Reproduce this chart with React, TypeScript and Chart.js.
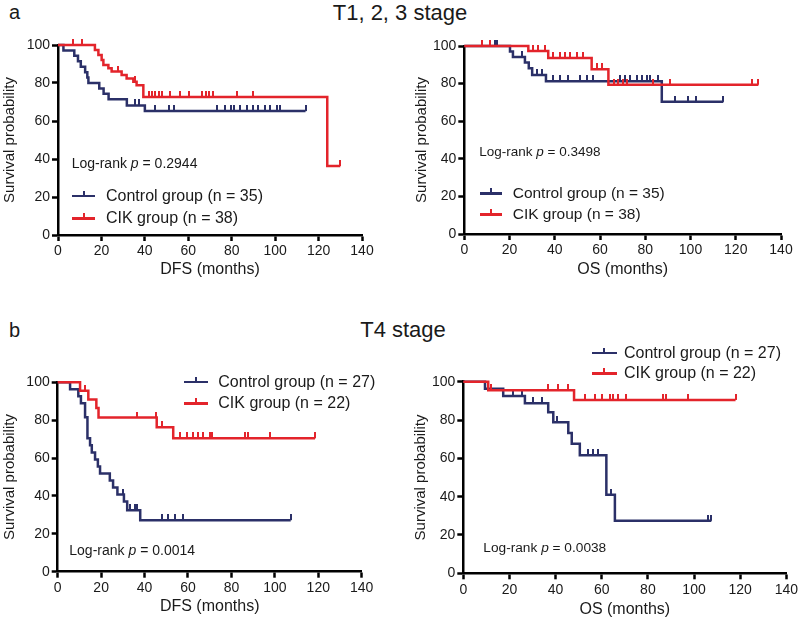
import React, { useEffect, useRef } from 'react';
import { Chart, registerables } from 'chart.js';

Chart.register(...registerables);

type Pt = [number, number];

const NAVY = '#2b3068';
const RED = '#e3242b';
const INK = '#1a1a1a';
const FONT = '"Liberation Sans", Arial, Helvetica, sans-serif';

// ---- axes ----
const xTickValues = [0, 20, 40, 60, 80, 100, 120, 140];
const yTickValues = [0, 20, 40, 60, 80, 100];

// ---- a: T1, 2, 3 stage, DFS ----
const aDfsControl: Pt[] = [[0, 100], [2.5, 97.1], [7.5, 94.3], [9.2, 91.4], [10.5, 88.6], [12.5, 85.7], [13.5, 82.9], [14, 80.0], [19, 77.1], [21, 74.3], [23.3, 71.4], [31.7, 68.2], [40, 65.2], [114, 65.2]];
const aDfsControlCensor = [35.6, 37.1, 44.8, 51, 53.2, 73, 77, 79.5, 81, 84, 87, 90, 92.3, 95.3, 97.7, 100.7, 102.4, 114];
const aDfsCik: Pt[] = [[0, 100], [17, 97.4], [18.6, 94.7], [20.1, 92.1], [20.9, 89.5], [23.2, 87.7], [24.7, 86.0], [29.3, 84.2], [31.6, 82.4], [34.7, 80.6], [36.2, 78.8], [39.3, 72.6], [124, 36.3], [130, 36.3]];
const aDfsCikCensor = [7, 11, 27.8, 35.5, 41.7, 43.3, 44.8, 46.3, 47.9, 51.7, 56.3, 60.1, 66.3, 68, 69.5, 71.5, 82.3, 90, 130];

// ---- a: T1, 2, 3 stage, OS ----
const aOsControl: Pt[] = [[0, 100], [20.2, 97.1], [21.5, 94.2], [26.8, 91.2], [28.5, 88.1], [30, 84.6], [36.1, 81.2], [87.3, 70.3], [114.5, 70.3]];
const aOsControlCensor = [13.5, 14.5, 25.3, 32, 34.5, 39.3, 42.3, 46, 51.2, 54.1, 57, 69, 71, 73.3, 76.4, 78.6, 80.8, 82.3, 85.8, 93, 99, 102.5, 114.5];
const aOsCik: Pt[] = [[0, 100], [28.3, 97.4], [37.1, 93.6], [56.3, 87.6], [63.7, 79.4], [130, 79.4]];
const aOsCikCensor = [7.7, 11.4, 30.5, 32.7, 35.7, 39.3, 42.3, 44.5, 46.7, 49.7, 52.6, 58.5, 60.7, 66, 68, 70.3, 71.8, 83.5, 91, 127, 130];

// ---- b: T4 stage, DFS ----
const bDfsControl: Pt[] = [[0, 100], [5.7, 96.3], [9.5, 92.6], [10.7, 88.9], [12.6, 81.5], [13.7, 70.4], [14.9, 66.7], [15.7, 63.0], [17.2, 59.3], [18.5, 55.6], [19.5, 51.9], [24, 48.1], [25.5, 44.4], [27.5, 40.7], [30.5, 37.0], [32, 32.4], [38, 27.2], [107.3, 27.2]];
const bDfsControlCensor = [30, 33.3, 35.6, 36.7, 48.2, 51, 54, 57.9, 107.3];
const bDfsCik: Pt[] = [[0, 100], [10.3, 95.5], [14.1, 90.9], [17.8, 86.4], [18.8, 81.4], [45.6, 76.3], [53.2, 70.4], [118.5, 70.4]];
const bDfsCikCensor = [12.6, 36.7, 45.2, 47.9, 56.3, 59.4, 62.5, 64.8, 67, 70.2, 70.9, 86.3, 87.8, 97.8, 118.5];

// ---- b: T4 stage, OS ----
const bOsControl: Pt[] = [[0, 100], [9.4, 96.3], [17.3, 92.6], [26.7, 88.7], [36.8, 84.0], [39, 78.8], [45.5, 73.2], [47, 67.6], [50.5, 61.6], [62, 41.0], [65.7, 27.4], [107.5, 27.4]];
const bOsControlCensor = [21.6, 25.3, 30.3, 33.9, 40.4, 54.1, 56.3, 58.4, 64.2, 106, 107.5];
const bOsCik: Pt[] = [[0, 100], [10.8, 95.5], [48, 90.5], [118, 90.5]];
const bOsCikCensor = [12, 36.8, 41, 45.4, 52.7, 57, 59.9, 63.5, 64.9, 67.1, 70.7, 86.6, 88, 97.4, 118];

function survAt(curve: Pt[], t: number): number {
  let s = curve[0][1];
  for (const [x, y] of curve) {
    if (x <= t) s = y;
    else break;
  }
  return s;
}

function makeTick(color: string) {
  const c = document.createElement('canvas');
  c.width = 2;
  c.height = 12;
  const g = c.getContext('2d')!;
  g.fillStyle = color;
  g.fillRect(0, 0, 2, 6);
  return c;
}

interface PanelProps {
  box: [number, number, number, number]; // canvas left, top, width, height (page)
  plot: [number, number, number, number]; // plot left, top, right, bottom (page)
  yTitleX: number;
  xTitleY: number;
  xTitle: string;
  control: Pt[];
  controlCensor: number[];
  cik: Pt[];
  cikCensor: number[];
}

function KMPanel(p: PanelProps) {
  const ref = useRef<HTMLCanvasElement>(null);
  useEffect(() => {
    const [cl, ct, cw, ch] = p.box;
    const [pl, pt, pr, pb] = p.plot;
    const yTitleLH = 15 * 1.2;
    const xTitleLH = 16 * 1.2;
    const padLeft = p.yTitleX - cl - yTitleLH / 2;
    const yAxisWidth = pl - cl - padLeft;
    const padTop = pt - ct;
    const padRight = cl + cw - pr;
    const xAxisHeight = ct + ch - pb;
    const xTitlePadBottom = ct + ch - p.xTitleY - xTitleLH / 2;

    const redTick = makeTick(RED);
    const navyTick = makeTick(NAVY);
    const toXY = (c: Pt[]) => c.map(([x, y]) => ({ x, y }));
    const censorXY = (c: Pt[], ts: number[]) => ts.map((t) => ({ x: t, y: survAt(c, t) }));

    const tickFont = { family: FONT, size: 14 };
    const chart = new Chart(ref.current!, {
      type: 'line',
      data: {
        datasets: [
          { data: censorXY(p.cik, p.cikCensor), showLine: false, pointStyle: redTick as any, pointRadius: 3, borderColor: RED, backgroundColor: RED, clip: false as any },
          { data: toXY(p.cik), stepped: 'before', borderColor: RED, borderWidth: 2.5, pointRadius: 0, fill: false, borderJoinStyle: 'miter', clip: false as any },
          { data: censorXY(p.control, p.controlCensor), showLine: false, pointStyle: navyTick as any, pointRadius: 3, borderColor: NAVY, backgroundColor: NAVY, clip: false as any },
          { data: toXY(p.control), stepped: 'before', borderColor: NAVY, borderWidth: 2.5, pointRadius: 0, fill: false, borderJoinStyle: 'miter', clip: false as any },
        ],
      },
      options: {
        animation: false,
        responsive: false,
        events: [],
        layout: { padding: { left: padLeft, top: padTop, right: padRight, bottom: 0 } },
        plugins: { legend: { display: false }, tooltip: { enabled: false } },
        scales: {
          x: {
            type: 'linear',
            min: xTickValues[0],
            max: xTickValues[xTickValues.length - 1],
            afterBuildTicks: (s: any) => { s.ticks = xTickValues.map((v) => ({ value: v })); },
            ticks: { font: tickFont, color: INK, padding: 2, maxRotation: 0, autoSkip: false },
            grid: { display: true, drawOnChartArea: false, drawTicks: true, tickLength: 6, tickWidth: 2.5, tickColor: '#000' },
            border: { display: true, color: '#000', width: 2.5 },
            title: { display: true, text: p.xTitle, font: { family: FONT, size: 16 }, color: INK, padding: { top: 0, bottom: xTitlePadBottom } },
            afterFit: (s: any) => { s.height = xAxisHeight; },
          },
          y: {
            type: 'linear',
            min: yTickValues[0],
            max: yTickValues[yTickValues.length - 1],
            afterBuildTicks: (s: any) => { s.ticks = yTickValues.map((v) => ({ value: v })); },
            ticks: { font: tickFont, color: INK, padding: 2, autoSkip: false },
            grid: { display: true, drawOnChartArea: false, drawTicks: true, tickLength: 6, tickWidth: 2.5, tickColor: '#000' },
            border: { display: true, color: '#000', width: 2.5 },
            title: { display: true, text: 'Survival probability', font: { family: FONT, size: 15 }, color: INK, padding: { top: 0, bottom: 0 } },
            afterFit: (s: any) => { s.width = yAxisWidth; },
          },
        },
      } as any,
    });
    return () => chart.destroy();
  }, []);
  const [cl, ct, cw, ch] = p.box;
  return (
    <canvas ref={ref} width={cw} height={ch} style={{ position: 'absolute', left: cl, top: ct, width: cw, height: ch }} />
  );
}

function Text(props: { x: number; y: number; size: number; children: React.ReactNode; center?: boolean }) {
  return (
    <div
      style={{
        position: 'absolute',
        left: props.x,
        top: props.y,
        transform: props.center ? 'translate(-50%, -50%)' : 'translateY(-50%)',
        fontFamily: FONT,
        fontSize: props.size,
        lineHeight: 1,
        color: INK,
        whiteSpace: 'nowrap',
      }}
    >
      {props.children}
    </div>
  );
}

function LegendRow(props: { x1: number; x2: number; textX: number; y: number; color: string; label: string; size: number }) {
  const mid = (props.x1 + props.x2) / 2;
  return (
    <>
      <div style={{ position: 'absolute', left: props.x1, top: props.y - 1, width: props.x2 - props.x1, height: 2.5, background: props.color }} />
      <div style={{ position: 'absolute', left: mid - 1, top: props.y - 5, width: 2, height: 5, background: props.color }} />
      <Text x={props.textX} y={props.y} size={props.size}>{props.label}</Text>
    </>
  );
}

function LogRank(props: { x: number; y: number; p: string; size: number }) {
  return (
    <Text x={props.x} y={props.y} size={props.size}>
      Log-rank <i>p</i> = {props.p}
    </Text>
  );
}

export default function App() {
  return (
    <div style={{ position: 'absolute', left: 0, top: 0, width: 800, height: 621, background: '#fff', overflow: 'hidden' }}>
      <Text x={9} y={12} size={20}>a</Text>
      <Text x={400} y={13} size={22} center>T1, 2, 3 stage</Text>
      <Text x={9} y={330} size={20}>b</Text>
      <Text x={403} y={330} size={22} center>T4 stage</Text>

      <KMPanel box={[0, 30, 400, 270]} plot={[58, 45, 362, 235]} yTitleX={10} xTitleY={270} xTitle="DFS (months)"
        control={aDfsControl} controlCensor={aDfsControlCensor} cik={aDfsCik} cikCensor={aDfsCikCensor} />
      <KMPanel box={[400, 30, 400, 270]} plot={[464.3, 46, 781, 234]} yTitleX={421.7} xTitleY={270} xTitle="OS (months)"
        control={aOsControl} controlCensor={aOsControlCensor} cik={aOsCik} cikCensor={aOsCikCensor} />
      <KMPanel box={[0, 330, 400, 291]} plot={[57.7, 382.3, 361.7, 571.7]} yTitleX={10} xTitleY={606.7} xTitle="DFS (months)"
        control={bDfsControl} controlCensor={bDfsControlCensor} cik={bDfsCik} cikCensor={bDfsCikCensor} />
      <KMPanel box={[400, 330, 400, 291]} plot={[463.3, 381.7, 786.7, 573.3]} yTitleX={420.7} xTitleY={610} xTitle="OS (months)"
        control={bOsControl} controlCensor={bOsControlCensor} cik={bOsCik} cikCensor={bOsCikCensor} />

      <LogRank x={71.7} y={162.7} p="0.2944" size={14} />
      <LegendRow x1={72} x2={95} textX={106} y={195.7} color={NAVY} label="Control group (n = 35)" size={16} />
      <LegendRow x1={72} x2={95} textX={106} y={218.3} color={RED} label="CIK group (n = 38)" size={16} />

      <LogRank x={479.3} y={151.7} p="0.3498" size={13.5} />
      <LegendRow x1={480} x2={501.7} textX={512.7} y={193.3} color={NAVY} label="Control group (n = 35)" size={15.5} />
      <LegendRow x1={480} x2={501.7} textX={512.7} y={214.3} color={RED} label="CIK group (n = 38)" size={15.5} />

      <LogRank x={69.3} y={550} p="0.0014" size={14} />
      <LegendRow x1={184} x2={208.3} textX={218.3} y={381.7} color={NAVY} label="Control group (n = 27)" size={16} />
      <LegendRow x1={184} x2={208.3} textX={218.3} y={403.3} color={RED} label="CIK group (n = 22)" size={16} />

      <LogRank x={483.3} y={548.3} p="0.0038" size={13.7} />
      <LegendRow x1={591.7} x2={616.7} textX={624} y={352.7} color={NAVY} label="Control group (n = 27)" size={16} />
      <LegendRow x1={591.7} x2={616.7} textX={624} y={373.3} color={RED} label="CIK group (n = 22)" size={16} />
    </div>
  );
}
